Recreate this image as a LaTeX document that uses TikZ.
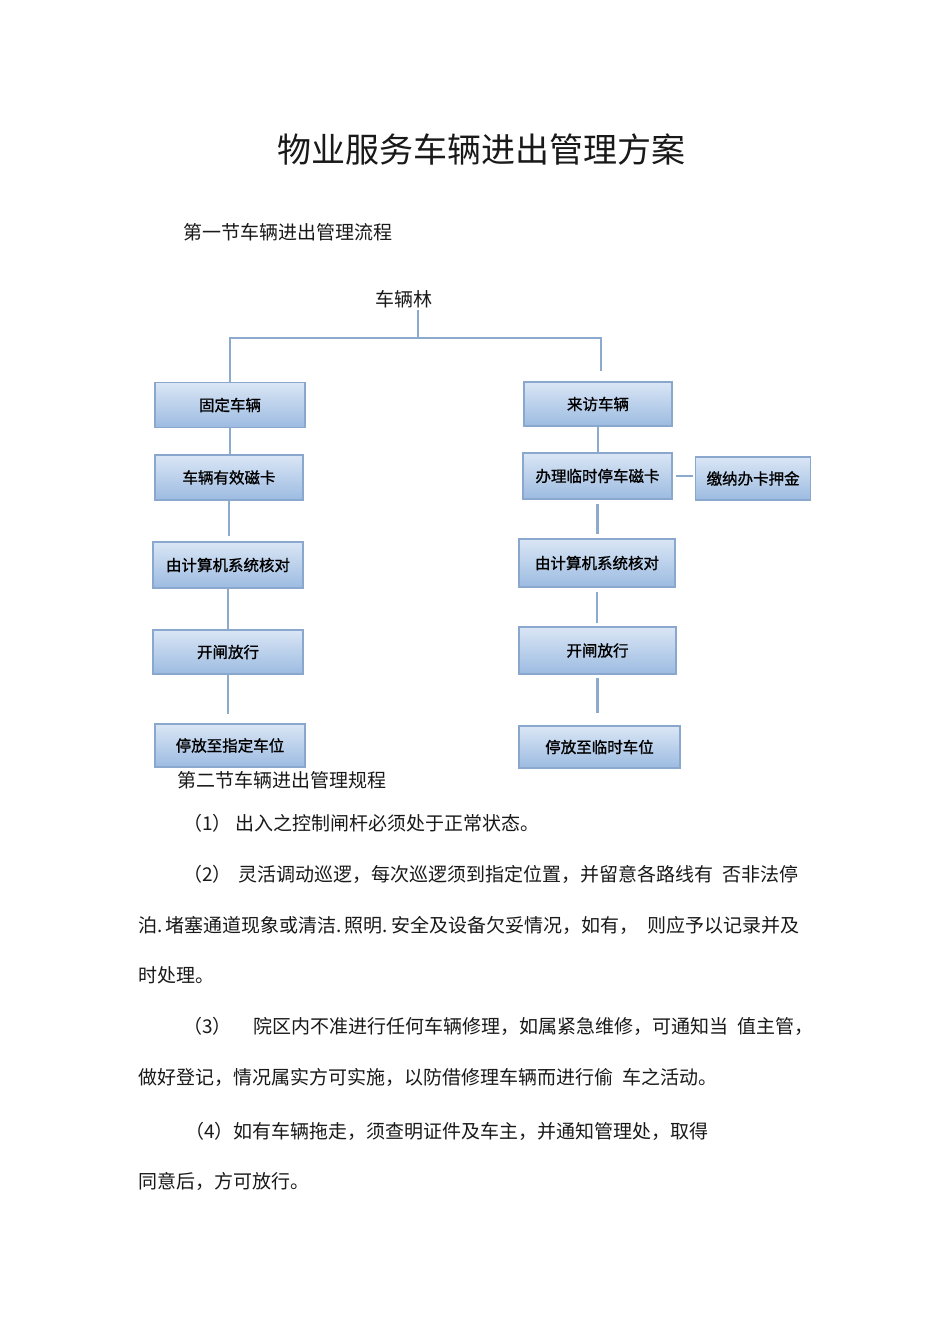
\documentclass[tikz,border=0pt]{standalone}
\usepackage{fontspec}
\setmainfont{Noto Sans CJK SC}
\newfontfamily\boxfont{Noto Sans CJK SC}[FakeBold=1.2]
\usepackage{xcolor}
\usepackage{tikz}
\usetikzlibrary{positioning}
\definecolor{boxtop}   {RGB}{218, 230, 245}
\definecolor{boxbottom}{RGB}{156, 187, 225}
\definecolor{boxedge}  {RGB}{138, 168, 205}
\definecolor{linkblue} {RGB}{140, 170, 206}
\definecolor{inktext}  {RGB}{25,  25,  25}
\tikzset{
  flowbox/.style={
    rectangle, draw=boxedge, line width=1.6pt,
    top color=boxtop, bottom color=boxbottom,
    minimum width=150pt, minimum height=45pt,
    inner sep=0pt, font=\boxfont\fontsize{15.5}{15.5}\selectfont
  },
  flowlink/.style={
    draw=linkblue, line width=2.6pt
  },
  bodytext/.style={
    anchor=west, inner sep=0pt, text=inktext,
    font=\fontsize{19}{19}\selectfont
  },
}

\begin{document}
\begin{tikzpicture}[x=1pt, y=-1pt]
  \useasboundingbox[fill=white] (0,0) rectangle (950,1344);

  % Headings
  \node[inner sep=0pt, text=inktext, font=\fontsize{34}{34}\selectfont]
        (title) at (481,150) {物业服务车辆进出管理方案};
  \node[bodytext] (sec1) at (183,232) {第一节车辆进出管理流程};

  % Root of the chart
  \node[inner sep=0pt, text=inktext, font=\fontsize{19}{19}\selectfont]
        (R) at (404,299) {车辆林};
  \coordinate (Rtop) at (418,310);
  \coordinate (BL)   at (230,338);
  \coordinate (BR)   at (601,338);

  % Fixed vehicles
  \node[flowbox] (F1) at (230,405)   {固定车辆};
  \node[flowbox, minimum width=148pt] (F2) at (229,477.5) {车辆有效磁卡};
  \node[flowbox, minimum height=46pt] (F3) at (228,565)   {由计算机系统核对};
  \node[flowbox, minimum height=44pt] (F4) at (228,652)   {开闸放行};
  \node[flowbox, minimum height=43pt] (F5) at (230,745.5) {停放至指定车位};

  % Visiting vehicles
  \node[flowbox, minimum width=148pt, minimum height=44pt] (V1) at (598,404)   {来访车辆};
  \node[flowbox, minimum width=149pt, minimum height=46pt] (V2) at (597.5,476) {办理临时停车磁卡};
  \node[flowbox, minimum width=115pt, minimum height=43pt,
        right=22pt of V2, yshift=-2.5pt] (D) {缴纳办卡押金};
  \node[flowbox, minimum width=156pt, minimum height=48pt] (V3) at (597,563)   {由计算机系统核对};
  \node[flowbox, minimum width=157pt, minimum height=47pt] (V4) at (597.5,650.5) {开闸放行};
  \node[flowbox, minimum width=161pt, minimum height=42pt] (V5) at (599.5,747) {停放至临时车位};

  % Tree lines
  \draw[flowlink] (Rtop) -- (Rtop |- BL);
  \draw[flowlink, shorten >=10pt] (F1.north) -- (BL) -- (BR) -- (BR |- V1.north);

  \draw[flowlink] (F1.south) -- (F1.south |- F2.north);
  \draw[flowlink, shorten >=5pt] (F2.south) -- (F2.south |- F3.north);
  \draw[flowlink] (F3.south) -- (F3.south |- F4.north);
  \draw[flowlink, shorten >=9pt] (F4.south) -- (F4.south |- F5.north);

  \draw[flowlink] (V1.south) -- (V1.south |- V2.north);
  \draw[flowlink, shorten <=4pt, shorten >=4pt] (V2.south) -- (V2.south |- V3.north);
  \draw[flowlink, shorten <=4pt, shorten >=3pt] (V3.south) -- (V3.south |- V4.north);
  \draw[flowlink, shorten <=3pt, shorten >=12pt] (V4.south) -- (V4.south |- V5.north);
  \draw[flowlink, shorten <=3pt, shorten >=2pt] (V2.east) -- (V2.east -| D.west);

  % Rules
  \node[bodytext] (sec2) at (177,780) {第二节车辆进出管理规程};
  \node[bodytext] (n1) at (183,823)  {（1）};
  \node[bodytext] (t1) at (235,823)  {出入之控制闸杆必须处于正常状态。};
  \node[bodytext] (n2) at (183,874)  {（2）};
  \node[bodytext] (t2) at (238,874)  {灵活调动巡逻，每次巡逻须到指定位置，并留意各路线有\hspace{9pt}否非法停};
  \node[bodytext] (t2b) at (138,925) {泊.\hspace{3pt}堵塞通道现象或清洁.\hspace{3pt}照明.\hspace{3pt}安全及设备欠妥情况，如有，\hspace{9pt}则应予以记录并及};
  \node[bodytext] (t2c) at (138,975) {时处理。};
  \node[bodytext] (n3) at (183,1026) {（3）};
  \node[bodytext] (t3) at (253,1026) {院区内不准进行任何车辆修理，如属紧急维修，可通知当\hspace{9pt}值主管，};
  \node[bodytext] (t3b) at (138,1077) {做好登记，情况属实方可实施，以防借修理车辆而进行偷\hspace{9pt}车之活动。};
  \node[bodytext] (t4) at (185,1131) {（4）如有车辆拖走，须查明证件及车主，并通知管理处，取得};
  \node[bodytext] (t4b) at (138,1181) {同意后，方可放行。};
\end{tikzpicture}
\end{document}
